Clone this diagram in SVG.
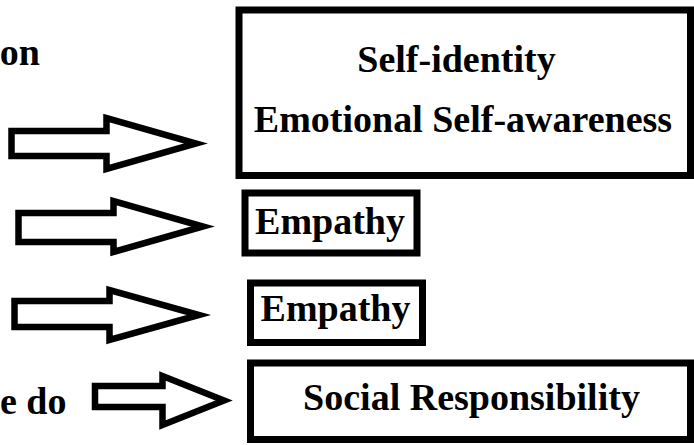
<svg xmlns="http://www.w3.org/2000/svg" width="694" height="445" viewBox="0 0 694 445">
  <style>
    .box { fill: #ffffff; stroke: #000000; stroke-width: 7; }
    .arrow { fill: #ffffff; stroke: #000000; stroke-width: 6.5; stroke-linejoin: miter; stroke-miterlimit: 10; }
    .lbl { font-family: "Liberation Serif", "Times New Roman", serif; font-weight: bold; font-size: 38px; fill: #000000; }
  </style>
  <rect width="694" height="445" fill="#ffffff"/>

  <!-- row labels on the left (cut at the edge) -->
  <g id="label-top">
    <text class="lbl" x="40" y="65" text-anchor="end">on</text>
  </g>
  <g id="label-bottom">
    <text class="lbl" x="0" y="414">e do</text>
  </g>

  <!-- block arrows -->
  <g id="connectors">
    <polygon class="arrow" points="11.5,131 106.5,131 106.5,118 196,143.5 106.5,169 106.5,156 11.5,156"/>
    <polygon class="arrow" points="18.5,213 113.5,213 113.5,201 203,226.5 113.5,252 113.5,242 18.5,242"/>
    <polygon class="arrow" points="14.5,301 109.5,301 109.5,290 199,315 109.5,340 109.5,327 14.5,327"/>
    <polygon class="arrow" points="95,386 162.5,386 162.5,376 224,400.5 162.5,425 162.5,407 95,407"/>
  </g>

  <g id="node-self">
    <rect class="box" x="239" y="10" width="451.5" height="165.5"/>
    <text class="lbl" x="456.5" y="72" text-anchor="middle">Self-identity</text>
    <text class="lbl" x="463" y="132" text-anchor="middle">Emotional Self-awareness</text>
  </g>

  <g id="node-empathy-1">
    <rect class="box" x="245" y="193" width="172" height="60"/>
    <text class="lbl" x="330" y="234" text-anchor="middle">Empathy</text>
  </g>

  <g id="node-empathy-2">
    <rect class="box" x="250.5" y="283" width="172" height="59.5"/>
    <text class="lbl" x="335.5" y="321" text-anchor="middle">Empathy</text>
  </g>

  <g id="node-social">
    <rect class="box" x="250.5" y="363" width="440" height="76.5"/>
    <text class="lbl" x="471.5" y="410" text-anchor="middle">Social Responsibility</text>
  </g>
</svg>
